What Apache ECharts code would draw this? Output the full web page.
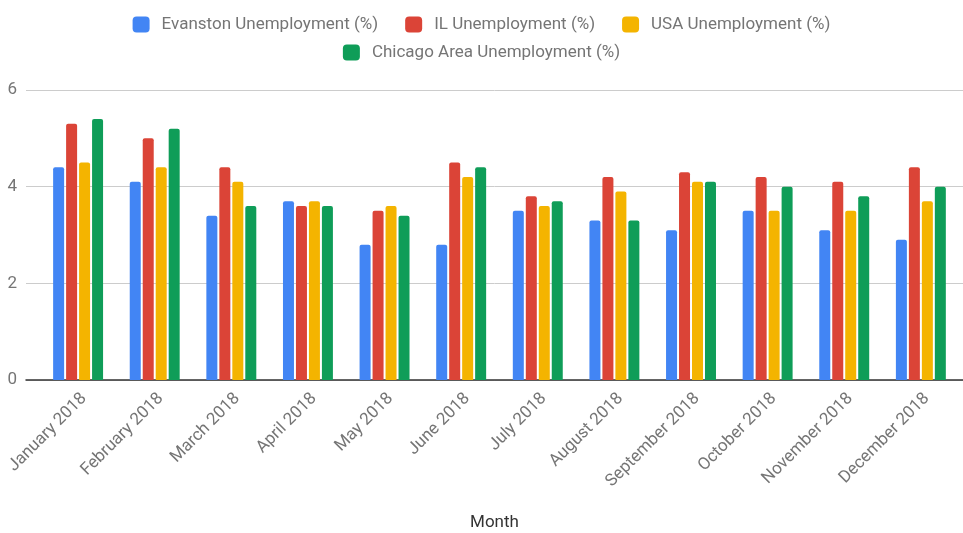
<!DOCTYPE html>
<html>
<head>
<meta charset="utf-8">
<script src="https://cdn.jsdelivr.net/npm/echarts@6/dist/echarts.min.js"></script>
<style>
  html, body { margin: 0; padding: 0; background: #fff; }
  #chart { width: 963px; height: 533px; }
</style>
</head>
<body>
<div id="chart"></div>
<script>
var months = ['January 2018', 'February 2018', 'March 2018', 'April 2018', 'May 2018', 'June 2018',
    'July 2018', 'August 2018', 'September 2018', 'October 2018', 'November 2018', 'December 2018'];
var evanston = [4.4, 4.1, 3.4, 3.7, 2.8, 2.8, 3.5, 3.3, 3.1, 3.5, 3.1, 2.9];
var illinois = [5.3, 5.0, 4.4, 3.6, 3.5, 4.5, 3.8, 4.2, 4.3, 4.2, 4.1, 4.4];
var usa = [4.5, 4.4, 4.1, 3.7, 3.6, 4.2, 3.6, 3.9, 4.1, 3.5, 3.5, 3.7];
var chicago = [5.4, 5.2, 3.6, 3.6, 3.4, 4.4, 3.7, 3.3, 4.1, 4.0, 3.8, 4.0];
var yTicks = [0, 2, 4, 6];

var names = ['Evanston Unemployment (%)', 'IL Unemployment (%)', 'USA Unemployment (%)', 'Chicago Area Unemployment (%)'];
var colors = ['#4285F4', '#DB4437', '#F4B400', '#0F9D58'];
var values = [evanston, illinois, usa, chicago];

var myChart = echarts.init(document.getElementById('chart'));

// month index positions, used so the plot can start a little left of the first group
var monthIdx = months.map(function (m, i) { return i; });

var series = [];
for (var i = 0; i < values.length; i++) {
    series.push({
        name: names[i],
        type: 'bar',
        data: values[i].map(function (v, j) { return [j, v]; }),
        barWidth: 11,
        barGap: '18%',
        itemStyle: { color: colors[i], borderRadius: [2, 2, 0, 0] }
    });
}

var legendText = { color: '#757575', fontSize: 17, fontFamily: 'Roboto', padding: [0, 0, 0, 7] };

var option = {
    textStyle: { fontFamily: 'Roboto' },
    color: colors,
    legend: [{
        data: names.slice(0, 3),
        top: 11,
        left: 'center',
        itemWidth: 17,
        itemHeight: 16,
        itemGap: 27,
        icon: 'roundRect',
        textStyle: legendText
    }, {
        data: names.slice(3),
        top: 39,
        left: 'center',
        itemWidth: 17,
        itemHeight: 16,
        icon: 'roundRect',
        textStyle: legendText
    }],
    grid: { left: 26, right: 0, top: 90, bottom: 153, outerBoundsMode: 'none' },
    xAxis: {
        type: 'value',
        min: -0.68,
        max: 11.55,
        name: 'Month',
        nameLocation: 'middle',
        nameGap: 134,
        nameMoveOverlap: false,
        nameTextStyle: { color: '#333', fontSize: 17 },
        axisLine: { onZero: false, lineStyle: { color: '#333', width: 1.5 } },
        axisTick: { show: false },
        splitLine: { show: false },
        axisLabel: {
            customValues: monthIdx,
            rotate: 45,
            color: '#757575',
            fontSize: 17,
            margin: 10,
            verticalAlign: 'top',
            formatter: function (v) { return months[Math.round(v)]; }
        }
    },
    yAxis: {
        type: 'value',
        min: yTicks[0],
        max: yTicks[yTicks.length - 1],
        interval: 2,
        axisLine: { show: false },
        axisTick: { show: false },
        axisLabel: { color: '#757575', fontSize: 17, margin: 9 },
        splitLine: { lineStyle: { color: '#ccc' } }
    },
    series: series
};

myChart.setOption(option);
</script>
</body>
</html>
